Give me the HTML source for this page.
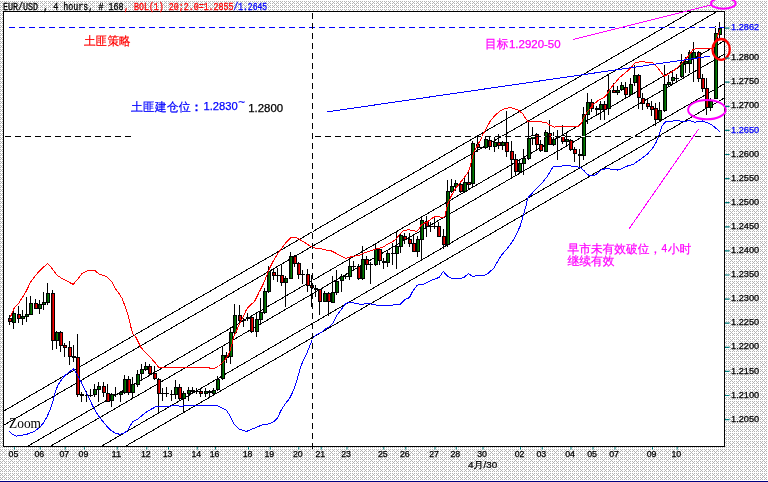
<!DOCTYPE html>
<html><head><meta charset="utf-8"><title>EURUSD H4</title>
<style>html,body{margin:0;padding:0;background:#fff;}svg{display:block;}</style>
</head><body>
<svg width="768" height="482" viewBox="0 0 768 482" shape-rendering="auto">
<defs>
<pattern id="dith" x="0" y="0" width="8" height="8" patternUnits="userSpaceOnUse"><rect width="8" height="8" fill="#fff"/><g fill="#b4b4b4"><rect x="0" y="1" width="1" height="1"/><rect x="2" y="1" width="1" height="1"/><rect x="4" y="1" width="1" height="1"/><rect x="6" y="1" width="1" height="1"/><rect x="1" y="2" width="1" height="1"/><rect x="5" y="2" width="1" height="1"/><rect x="0" y="3" width="1" height="1"/><rect x="2" y="3" width="1" height="1"/><rect x="4" y="3" width="1" height="1"/><rect x="6" y="3" width="1" height="1"/><rect x="3" y="4" width="1" height="1"/><rect x="0" y="5" width="1" height="1"/><rect x="2" y="5" width="1" height="1"/><rect x="4" y="5" width="1" height="1"/><rect x="6" y="5" width="1" height="1"/><rect x="1" y="6" width="1" height="1"/><rect x="5" y="6" width="1" height="1"/><rect x="0" y="7" width="1" height="1"/><rect x="2" y="7" width="1" height="1"/><rect x="4" y="7" width="1" height="1"/><rect x="6" y="7" width="1" height="1"/></g></pattern>
<clipPath id="cp"><rect x="4" y="12" width="720" height="434"/></clipPath>
</defs>
<rect x="0" y="0" width="768" height="482" fill="url(#dith)"/>
<rect x="0" y="481" width="768" height="1" fill="#000080"/>
<rect x="3.5" y="11.5" width="721" height="435" fill="#fff" stroke="#000" stroke-width="1"/>
<g clip-path="url(#cp)" shape-rendering="crispEdges">
<line x1="4" y1="410.89" x2="724" y2="-7.29" stroke="#000" stroke-width="1"/>
<line x1="4" y1="425.09" x2="724" y2="7.49" stroke="#000" stroke-width="1"/>
<line x1="4" y1="460.05" x2="724" y2="40.94" stroke="#000" stroke-width="1"/>
<line x1="4" y1="473.25" x2="724" y2="54.42" stroke="#000" stroke-width="1"/>
<line x1="4" y1="502.92" x2="724" y2="84.03" stroke="#000" stroke-width="1"/>
<line x1="4" y1="516.92" x2="724" y2="98.17" stroke="#000" stroke-width="1"/>
<path d="M9.5 315V325M13.5 308V329M18.5 306V323M22.5 310V325M26.5 297V322M30.5 296V315M35.5 299V309M39.5 300V314M43.5 292V310M47.5 283V305M52.5 290V350M56.5 331V349M60.5 331V352M64.5 343V357M69.5 341V365M73.5 345V362M77.5 334V397M81.5 392V402M86.5 391V402M90.5 389V397M94.5 384V397M98.5 382V402M103.5 382V397M107.5 384V402M111.5 393V407M115.5 387V397M120.5 391V402M124.5 375V394M128.5 376V395M132.5 377V399M137.5 370V387M141.5 364V379M145.5 362V371M149.5 364V375M154.5 366V380M158.5 378V414M162.5 388V401M166.5 387V397M171.5 390V401M175.5 380V399M179.5 384V400M183.5 391V412M188.5 387V401M192.5 387V393M196.5 388V394M200.5 389V397M205.5 388V397M209.5 390V397M213.5 388V395M217.5 376V391M222.5 346V380M226.5 352V363M230.5 327V364M234.5 304V334M239.5 305V322M243.5 318V327M247.5 313V321M251.5 316V333M256.5 312V337M260.5 298V325M264.5 288V314M268.5 266V293M273.5 269V280M277.5 268V282M281.5 264V286M285.5 276V307M290.5 252V279M294.5 255V267M298.5 262V279M302.5 270V284M307.5 269V292M311.5 275V307M315.5 285V297M319.5 289V315M324.5 291V302M328.5 292V316M332.5 276V303M336.5 270V295M341.5 274V292M345.5 274V279M349.5 259V280M353.5 261V270M358.5 264V280M362.5 246V280M366.5 256V270M370.5 262V284M375.5 244V266M379.5 248V265M383.5 258V269M387.5 251V267M392.5 243V265M396.5 232V269M400.5 233V253M404.5 233V244M409.5 233V247M413.5 236V252M417.5 236V257M421.5 216V259M426.5 216V237M430.5 222V232M434.5 217V229M438.5 222V237M443.5 229V249M447.5 180V247M451.5 179V193M455.5 180V191M460.5 183V193M464.5 178V192M468.5 172V190M472.5 141V188M477.5 137V152M485.5 136V149M489.5 137V150M494.5 136V152M498.5 134V149M502.5 141V150M506.5 111V157M511.5 141V179M515.5 154V175M519.5 160V174M523.5 149V175M528.5 122V160M532.5 127V145M536.5 133V150M540.5 140V152M545.5 130V152M549.5 120V145M553.5 132V146M557.5 130V160M562.5 125V144M566.5 132V146M570.5 139V151M574.5 147V162M579.5 149V169M583.5 107V160M587.5 93V124M591.5 99V112M596.5 106V115M600.5 101V120M604.5 101V120M608.5 74V115M613.5 83V93M617.5 86V95M621.5 82V91M625.5 82V99M630.5 78V96M634.5 65V86M638.5 74V109M642.5 93V110M647.5 99V109M651.5 101V116M655.5 103V126M659.5 102V122M664.5 65V112M668.5 75V86M672.5 72V84M676.5 74V83M681.5 54V78M685.5 57V73M689.5 50V73M693.5 42V82M698.5 51V82M702.5 74V92M706.5 78V115M710.5 98V111M715.5 26V99M719.5 22V39" stroke="#000" stroke-width="1" fill="none"/>
<g fill="#000"><rect x="8" y="318" width="4" height="4"/><rect x="12" y="313" width="4" height="10"/><rect x="17" y="314" width="4" height="5"/><rect x="21" y="316" width="4" height="3"/><rect x="25" y="314" width="4" height="3"/><rect x="29" y="303" width="4" height="12"/><rect x="34" y="303" width="4" height="6"/><rect x="38" y="304" width="4" height="5"/><rect x="42" y="302" width="4" height="3"/><rect x="46" y="293" width="4" height="10"/><rect x="51" y="293" width="4" height="48"/><rect x="55" y="332" width="4" height="9"/><rect x="59" y="332" width="4" height="14"/><rect x="63" y="345" width="4" height="3"/><rect x="68" y="347" width="4" height="10"/><rect x="72" y="356" width="4" height="2"/><rect x="76" y="357" width="4" height="38"/><rect x="80" y="394" width="4" height="2"/><rect x="85" y="395" width="4" height="1"/><rect x="89" y="395" width="4" height="1"/><rect x="93" y="389" width="4" height="6"/><rect x="97" y="386" width="4" height="4"/><rect x="102" y="386" width="4" height="7"/><rect x="106" y="393" width="4" height="9"/><rect x="110" y="394" width="4" height="7"/><rect x="114" y="394" width="4" height="1"/><rect x="119" y="392" width="4" height="3"/><rect x="123" y="379" width="4" height="14"/><rect x="127" y="379" width="4" height="14"/><rect x="131" y="384" width="4" height="9"/><rect x="136" y="374" width="4" height="11"/><rect x="140" y="369" width="4" height="5"/><rect x="144" y="366" width="4" height="4"/><rect x="148" y="366" width="4" height="8"/><rect x="153" y="373" width="4" height="6"/><rect x="157" y="379" width="4" height="15"/><rect x="161" y="393" width="4" height="1"/><rect x="165" y="393" width="4" height="1"/><rect x="170" y="394" width="4" height="1"/><rect x="174" y="387" width="4" height="8"/><rect x="178" y="387" width="4" height="12"/><rect x="182" y="393" width="4" height="6"/><rect x="187" y="390" width="4" height="4"/><rect x="191" y="390" width="4" height="2"/><rect x="195" y="391" width="4" height="1"/><rect x="199" y="391" width="4" height="3"/><rect x="204" y="391" width="4" height="3"/><rect x="208" y="391" width="4" height="2"/><rect x="212" y="390" width="4" height="4"/><rect x="216" y="379" width="4" height="11"/><rect x="221" y="355" width="4" height="24"/><rect x="225" y="355" width="4" height="3"/><rect x="229" y="332" width="4" height="25"/><rect x="233" y="315" width="4" height="18"/><rect x="238" y="315" width="4" height="6"/><rect x="242" y="320" width="4" height="1"/><rect x="246" y="317" width="4" height="2"/><rect x="250" y="317" width="4" height="15"/><rect x="255" y="319" width="4" height="13"/><rect x="259" y="312" width="4" height="8"/><rect x="263" y="291" width="4" height="22"/><rect x="267" y="271" width="4" height="21"/><rect x="272" y="272" width="4" height="4"/><rect x="276" y="275" width="4" height="1"/><rect x="280" y="275" width="4" height="8"/><rect x="284" y="278" width="4" height="5"/><rect x="289" y="256" width="4" height="23"/><rect x="293" y="256" width="4" height="8"/><rect x="297" y="263" width="4" height="12"/><rect x="301" y="274" width="4" height="1"/><rect x="306" y="274" width="4" height="12"/><rect x="310" y="285" width="4" height="3"/><rect x="314" y="288" width="4" height="2"/><rect x="318" y="289" width="4" height="13"/><rect x="323" y="293" width="4" height="9"/><rect x="327" y="293" width="4" height="9"/><rect x="331" y="292" width="4" height="11"/><rect x="335" y="281" width="4" height="12"/><rect x="340" y="276" width="4" height="5"/><rect x="344" y="276" width="4" height="1"/><rect x="348" y="266" width="4" height="11"/><rect x="352" y="266" width="4" height="1"/><rect x="357" y="266" width="4" height="13"/><rect x="361" y="259" width="4" height="20"/><rect x="365" y="259" width="4" height="6"/><rect x="369" y="264" width="4" height="1"/><rect x="374" y="249" width="4" height="16"/><rect x="378" y="249" width="4" height="12"/><rect x="382" y="261" width="4" height="2"/><rect x="386" y="253" width="4" height="10"/><rect x="391" y="253" width="4" height="1"/><rect x="395" y="246" width="4" height="8"/><rect x="399" y="235" width="4" height="12"/><rect x="403" y="236" width="4" height="4"/><rect x="408" y="239" width="4" height="5"/><rect x="412" y="243" width="4" height="9"/><rect x="416" y="239" width="4" height="13"/><rect x="420" y="220" width="4" height="20"/><rect x="425" y="221" width="4" height="6"/><rect x="429" y="226" width="4" height="1"/><rect x="433" y="226" width="4" height="1"/><rect x="437" y="226" width="4" height="11"/><rect x="442" y="236" width="4" height="9"/><rect x="446" y="191" width="4" height="54"/><rect x="450" y="186" width="4" height="6"/><rect x="454" y="183" width="4" height="4"/><rect x="459" y="184" width="4" height="8"/><rect x="463" y="182" width="4" height="10"/><rect x="467" y="182" width="4" height="3"/><rect x="471" y="143" width="4" height="41"/><rect x="476" y="144" width="4" height="4"/><rect x="480" y="147" width="4" height="1"/><rect x="484" y="139" width="4" height="9"/><rect x="488" y="140" width="4" height="7"/><rect x="493" y="142" width="4" height="5"/><rect x="497" y="142" width="4" height="4"/><rect x="501" y="142" width="4" height="4"/><rect x="505" y="142" width="4" height="10"/><rect x="510" y="151" width="4" height="9"/><rect x="514" y="159" width="4" height="13"/><rect x="518" y="163" width="4" height="9"/><rect x="522" y="158" width="4" height="6"/><rect x="527" y="138" width="4" height="21"/><rect x="531" y="135" width="4" height="4"/><rect x="535" y="134" width="4" height="11"/><rect x="539" y="144" width="4" height="7"/><rect x="544" y="132" width="4" height="20"/><rect x="548" y="133" width="4" height="12"/><rect x="552" y="139" width="4" height="6"/><rect x="556" y="137" width="4" height="1"/><rect x="561" y="135" width="4" height="7"/><rect x="565" y="139" width="4" height="3"/><rect x="569" y="140" width="4" height="10"/><rect x="573" y="149" width="4" height="5"/><rect x="578" y="154" width="4" height="2"/><rect x="582" y="114" width="4" height="42"/><rect x="586" y="102" width="4" height="13"/><rect x="590" y="102" width="4" height="7"/><rect x="595" y="108" width="4" height="2"/><rect x="599" y="104" width="4" height="6"/><rect x="603" y="104" width="4" height="6"/><rect x="607" y="90" width="4" height="19"/><rect x="612" y="90" width="4" height="3"/><rect x="616" y="90" width="4" height="3"/><rect x="620" y="85" width="4" height="5"/><rect x="624" y="87" width="4" height="8"/><rect x="629" y="84" width="4" height="11"/><rect x="633" y="75" width="4" height="8"/><rect x="637" y="75" width="4" height="23"/><rect x="641" y="98" width="4" height="6"/><rect x="646" y="103" width="4" height="4"/><rect x="650" y="106" width="4" height="4"/><rect x="654" y="108" width="4" height="12"/><rect x="658" y="110" width="4" height="10"/><rect x="663" y="84" width="4" height="27"/><rect x="667" y="82" width="4" height="3"/><rect x="671" y="77" width="4" height="4"/><rect x="675" y="78" width="4" height="1"/><rect x="680" y="62" width="4" height="15"/><rect x="684" y="61" width="4" height="3"/><rect x="688" y="52" width="4" height="12"/><rect x="692" y="52" width="4" height="7"/><rect x="697" y="52" width="4" height="27"/><rect x="701" y="78" width="4" height="11"/><rect x="705" y="88" width="4" height="20"/><rect x="709" y="101" width="4" height="7"/><rect x="714" y="33" width="4" height="66"/><rect x="718" y="28" width="4" height="7"/></g>
<g fill="#008000"><rect x="13" y="314" width="2" height="8"/><rect x="22" y="317" width="2" height="1"/><rect x="26" y="315" width="2" height="1"/><rect x="30" y="304" width="2" height="10"/><rect x="39" y="305" width="2" height="3"/><rect x="43" y="303" width="2" height="1"/><rect x="47" y="294" width="2" height="8"/><rect x="56" y="333" width="2" height="7"/><rect x="94" y="390" width="2" height="4"/><rect x="98" y="387" width="2" height="2"/><rect x="111" y="395" width="2" height="5"/><rect x="120" y="393" width="2" height="1"/><rect x="124" y="380" width="2" height="12"/><rect x="132" y="385" width="2" height="7"/><rect x="137" y="375" width="2" height="9"/><rect x="141" y="370" width="2" height="3"/><rect x="145" y="367" width="2" height="2"/><rect x="175" y="388" width="2" height="6"/><rect x="183" y="394" width="2" height="4"/><rect x="188" y="391" width="2" height="2"/><rect x="205" y="392" width="2" height="1"/><rect x="213" y="391" width="2" height="2"/><rect x="217" y="380" width="2" height="9"/><rect x="222" y="356" width="2" height="22"/><rect x="226" y="356" width="2" height="1"/><rect x="230" y="333" width="2" height="23"/><rect x="234" y="316" width="2" height="16"/><rect x="256" y="320" width="2" height="11"/><rect x="260" y="313" width="2" height="6"/><rect x="264" y="292" width="2" height="20"/><rect x="268" y="272" width="2" height="19"/><rect x="285" y="279" width="2" height="3"/><rect x="290" y="257" width="2" height="21"/><rect x="324" y="294" width="2" height="7"/><rect x="332" y="293" width="2" height="9"/><rect x="336" y="282" width="2" height="10"/><rect x="341" y="277" width="2" height="3"/><rect x="349" y="267" width="2" height="9"/><rect x="362" y="260" width="2" height="18"/><rect x="375" y="250" width="2" height="14"/><rect x="387" y="254" width="2" height="8"/><rect x="396" y="247" width="2" height="6"/><rect x="400" y="236" width="2" height="10"/><rect x="417" y="240" width="2" height="11"/><rect x="421" y="221" width="2" height="18"/><rect x="447" y="192" width="2" height="52"/><rect x="451" y="187" width="2" height="4"/><rect x="455" y="184" width="2" height="2"/><rect x="464" y="183" width="2" height="8"/><rect x="472" y="144" width="2" height="39"/><rect x="485" y="140" width="2" height="7"/><rect x="494" y="143" width="2" height="3"/><rect x="502" y="143" width="2" height="2"/><rect x="519" y="164" width="2" height="7"/><rect x="523" y="159" width="2" height="4"/><rect x="528" y="139" width="2" height="19"/><rect x="532" y="136" width="2" height="2"/><rect x="545" y="133" width="2" height="18"/><rect x="553" y="140" width="2" height="4"/><rect x="566" y="140" width="2" height="1"/><rect x="583" y="115" width="2" height="40"/><rect x="587" y="103" width="2" height="11"/><rect x="600" y="105" width="2" height="4"/><rect x="608" y="91" width="2" height="17"/><rect x="617" y="91" width="2" height="1"/><rect x="621" y="86" width="2" height="3"/><rect x="630" y="85" width="2" height="9"/><rect x="634" y="76" width="2" height="6"/><rect x="659" y="111" width="2" height="8"/><rect x="664" y="85" width="2" height="25"/><rect x="668" y="83" width="2" height="1"/><rect x="672" y="78" width="2" height="2"/><rect x="681" y="63" width="2" height="13"/><rect x="685" y="62" width="2" height="1"/><rect x="689" y="53" width="2" height="10"/><rect x="693" y="53" width="2" height="5"/><rect x="710" y="102" width="2" height="5"/><rect x="715" y="34" width="2" height="64"/><rect x="719" y="29" width="2" height="5"/></g>
<g fill="#ff0000"><rect x="9" y="319" width="2" height="2"/><rect x="18" y="315" width="2" height="3"/><rect x="35" y="304" width="2" height="4"/><rect x="52" y="294" width="2" height="46"/><rect x="60" y="333" width="2" height="12"/><rect x="64" y="346" width="2" height="1"/><rect x="69" y="348" width="2" height="8"/><rect x="77" y="358" width="2" height="36"/><rect x="103" y="387" width="2" height="5"/><rect x="107" y="394" width="2" height="7"/><rect x="128" y="380" width="2" height="12"/><rect x="149" y="367" width="2" height="6"/><rect x="154" y="374" width="2" height="4"/><rect x="158" y="380" width="2" height="13"/><rect x="179" y="388" width="2" height="10"/><rect x="200" y="392" width="2" height="1"/><rect x="239" y="316" width="2" height="4"/><rect x="251" y="318" width="2" height="13"/><rect x="273" y="273" width="2" height="2"/><rect x="281" y="276" width="2" height="6"/><rect x="294" y="257" width="2" height="6"/><rect x="298" y="264" width="2" height="10"/><rect x="307" y="275" width="2" height="10"/><rect x="311" y="286" width="2" height="1"/><rect x="319" y="290" width="2" height="11"/><rect x="328" y="294" width="2" height="7"/><rect x="358" y="267" width="2" height="11"/><rect x="366" y="260" width="2" height="4"/><rect x="379" y="250" width="2" height="10"/><rect x="404" y="237" width="2" height="2"/><rect x="409" y="240" width="2" height="3"/><rect x="413" y="244" width="2" height="7"/><rect x="426" y="222" width="2" height="4"/><rect x="438" y="227" width="2" height="9"/><rect x="443" y="237" width="2" height="7"/><rect x="460" y="185" width="2" height="6"/><rect x="468" y="183" width="2" height="1"/><rect x="477" y="145" width="2" height="2"/><rect x="489" y="141" width="2" height="5"/><rect x="498" y="143" width="2" height="2"/><rect x="506" y="143" width="2" height="8"/><rect x="511" y="152" width="2" height="7"/><rect x="515" y="160" width="2" height="11"/><rect x="536" y="135" width="2" height="9"/><rect x="540" y="145" width="2" height="5"/><rect x="549" y="134" width="2" height="10"/><rect x="562" y="136" width="2" height="5"/><rect x="570" y="141" width="2" height="8"/><rect x="574" y="150" width="2" height="3"/><rect x="591" y="103" width="2" height="5"/><rect x="604" y="105" width="2" height="4"/><rect x="613" y="91" width="2" height="1"/><rect x="625" y="88" width="2" height="6"/><rect x="638" y="76" width="2" height="21"/><rect x="642" y="99" width="2" height="4"/><rect x="647" y="104" width="2" height="2"/><rect x="651" y="107" width="2" height="2"/><rect x="655" y="109" width="2" height="10"/><rect x="698" y="53" width="2" height="25"/><rect x="702" y="79" width="2" height="9"/><rect x="706" y="89" width="2" height="18"/></g>
<path d="M9.5 319V321M13.5 314V322M18.5 315V318M22.5 317V318M26.5 315V316M30.5 304V314M35.5 304V308M39.5 305V308M43.5 303V304M47.5 294V302M52.5 294V340M56.5 333V340M60.5 333V345M64.5 346V347M69.5 348V356M77.5 358V394M94.5 390V394M98.5 387V389M103.5 387V392M107.5 394V401M111.5 395V400M120.5 393V394M124.5 380V392M128.5 380V392M132.5 385V392M137.5 375V384M141.5 370V373M145.5 367V369M149.5 367V373M154.5 374V378M158.5 380V393M175.5 388V394M179.5 388V398M183.5 394V398M188.5 391V393M200.5 392V393M205.5 392V393M213.5 391V393M217.5 380V389M222.5 356V378M226.5 356V357M230.5 333V356M234.5 316V332M239.5 316V320M251.5 318V331M256.5 320V331M260.5 313V319M264.5 292V312M268.5 272V291M273.5 273V275M281.5 276V282M285.5 279V282M290.5 257V278M294.5 257V263M298.5 264V274M307.5 275V285M311.5 286V287M319.5 290V301M324.5 294V301M328.5 294V301M332.5 293V302M336.5 282V292M341.5 277V280M349.5 267V276M358.5 267V278M362.5 260V278M366.5 260V264M375.5 250V264M379.5 250V260M387.5 254V262M396.5 247V253M400.5 236V246M404.5 237V239M409.5 240V243M413.5 244V251M417.5 240V251M421.5 221V239M426.5 222V226M438.5 227V236M443.5 237V244M447.5 192V244M451.5 187V191M455.5 184V186M460.5 185V191M464.5 183V191M468.5 183V184M472.5 144V183M477.5 145V147M485.5 140V147M489.5 141V146M494.5 143V146M498.5 143V145M502.5 143V145M506.5 143V151M511.5 152V159M515.5 160V171M519.5 164V171M523.5 159V163M528.5 139V158M532.5 136V138M536.5 135V144M540.5 145V150M545.5 133V151M549.5 134V144M553.5 140V144M562.5 136V141M566.5 140V141M570.5 141V149M574.5 150V153M583.5 115V155M587.5 103V114M591.5 103V108M600.5 105V109M604.5 105V109M608.5 91V108M613.5 91V92M617.5 91V92M621.5 86V89M625.5 88V94M630.5 85V94M634.5 76V82M638.5 76V97M642.5 99V103M647.5 104V106M651.5 107V109M655.5 109V119M659.5 111V119M664.5 85V110M668.5 83V84M672.5 78V80M681.5 63V76M685.5 62V63M689.5 53V63M693.5 53V58M698.5 53V78M702.5 79V88M706.5 89V107M710.5 102V107M715.5 34V98M719.5 29V34" stroke="#000" stroke-opacity="0.45" stroke-width="1" fill="none"/>
<polyline points="9.5,317.5 11.25,315 13.75,308.75 18.75,303.1 23.1,296.25 26.25,291.25 30,283.1 33.1,278.75 37.5,273.1 42.5,268.1 47.5,263.5 51.25,267.5 53.75,270.6 56.9,275 61.25,278.1 67.5,281.25 73.1,284.4 77.5,279.4 81.9,273.75 87.5,270.6 90,270.25 94.4,270.25 98.75,273.75 102.5,275.25 106.25,276.25 110,279.75 112.5,282.5 115,288.1 118.75,293.1 121.9,298.1 124.4,304.4 126.9,311.9 128.75,317.5 130.6,325 131,327.5 132.9,333.75 136,337.5 138.5,342.5 141,347.5 146,353.1 151,358.1 155.4,363.1 158.5,367.25 163.5,367.25 184.75,367.25 207.25,367.25 209.75,368.1 214.75,368.1 218.5,366.5 220.4,364.6 224.7,360.3 228.3,355.2 230.5,349.4 232,343.6 233.4,337.8 235.6,332.7 237.8,327.6 240.7,321.8 243.6,316 246.5,309.4 250.9,304.4 254.4,301.7 258.7,293 263.1,284.3 266.7,275.6 269.6,268.3 273.2,261 277.6,253.8 281.9,248 286.3,242.2 290.7,237.8 295,237.1 299.4,239.3 305.2,242.9 311,246.5 315.4,248 321.2,248.7 327,250.2 331.3,250.9 335.7,253.1 340.5,255.8 345.7,258.4 349.4,257.3 353.9,256.1 358.4,255.8 362.9,253.5 368.1,251.7 373.3,249.8 377.8,248.3 380.8,247.9 384.5,246.1 388.3,243.8 392.4,242 396.6,238.4 399.2,234.75 402.8,231.1 408,229.6 412.2,230.6 416.3,231.3 418.9,229.6 420.5,225.9 423.6,223.3 426.7,222.3 429.8,220.2 432.9,217.6 436,216.4 439.1,216.6 442.2,217.8 444.8,216.6 445.9,211.4 447.4,205.2 449,201 451.6,195.2 456,187.9 461.8,180.7 466.9,174.1 469.8,168.3 472,158.9 474.1,151.6 477,145.8 480.7,140 481.9,136 485.6,129.75 490,121.6 495,115.4 500,111 505,108.5 510.6,107.5 515,109.1 518.75,110.4 522.5,113.5 525.6,118.5 528.1,121.6 532.5,121.6 538.75,121.6 546.25,122.5 550,125.35 554.4,127.1 560.2,126.1 568.9,126.5 576.1,126.8 579.8,125.6 582,121.7 584.1,116.6 587,112.3 590.7,107.9 593.6,104.3 597.9,100.7 603.7,97.8 606.6,94.9 609.5,89.8 612.4,86.1 616.1,81.8 619.7,77.4 624.1,73.8 628.4,70.2 632,66.5 635,62.9 638.6,62.2 640.25,61.4 646.5,62.25 652.75,62.9 656,65.7 658.2,68.3 660.5,71.6 662.7,74.6 664.6,76.1 667.2,74.6 670.9,72.4 674.7,69.8 677.7,67.2 680.6,64.2 683.6,61.2 685.9,58.6 688.1,56.3 690.4,53.3 692.6,50 694.1,49.2 697.1,48.5 700,48.1 704,48.25 711.5,48.25 714,46.6 716.5,38 720,30" fill="none" stroke="#ff0000" stroke-width="1" stroke-linejoin="round"/>
<polyline points="8.9,430.8 12.1,434 16.2,436.1 21,435.6 27.5,434 34,431.6 39.6,427.5 43.7,422.7 46.9,417 50.2,409.7 52.6,402.5 54.2,396 55.8,390.3 58.3,384.7 61.5,379.8 64.7,375.75 69.6,371.7 73.6,368.8 76.9,374.1 80.9,381.4 84.1,387.9 88.2,396 90,400 92.5,405.5 96.25,412.5 100,418.1 103.75,422.5 107.5,426.9 111.25,430.6 115,433.1 120,434.4 123.75,433.1 127.5,430.6 130,426.25 132.5,421.9 137.5,419.4 142.5,415 147.5,411.25 152.5,408.5 156.25,406.5 170,406.25 173.75,405.25 177.5,405.6 180,406.25 191.5,405.4 217.1,405.4 220.9,407.5 225.9,409.75 229,414.1 231.5,419.1 234,424.1 239,429.1 246.5,431.4 254,428.25 262.75,424.75 269.6,423.75 274,421.6 277.75,417.9 280.7,410.9 285.1,404 289.4,398.7 292.9,391.7 295.5,384.8 298.1,376.1 300.7,366.5 303.4,360.4 306.8,353.4 310.3,344.7 312.9,337.7 316.25,335 321.25,332.5 325,329.4 330,326.25 333.1,323.1 335,318.75 337.5,314.4 341.25,309.4 345,304.4 348.1,302.5 351.25,302.5 356.25,303.5 361.9,304.4 366.25,303.5 371.25,304 377.5,305.25 386,305.6 392,305.1 400.1,304.5 405.1,299.5 409.5,297.6 412.6,291.4 417,285.5 419.5,284.5 423.25,284.25 428.25,281.75 432,279.9 435.75,278.9 439.5,277 443.25,271.4 447,275.75 451.4,278.25 461.4,278.25 464.5,277 468.5,273.5 472.6,276.4 478.9,275.5 485.1,275.1 488,273.3 493.5,268.6 496.7,263.1 501.4,255.2 506.9,248.9 512.4,241.8 516.4,233.9 520.3,226 522.7,217.4 525.1,208.7 526.3,204.8 527.4,198.5 531.4,194 537.1,187.7 542.8,182 547.4,176.3 550.8,170.5 553.1,166.6 558.8,166.6 565.7,165.2 569.1,165.75 575.9,166.6 580.5,167.7 583.9,170.5 587.4,174.5 590.8,176 594.2,175.7 596,174.6 601.1,170.1 606.3,168.4 611.4,169.2 617.2,170.1 621.7,168.8 626.8,166.2 633.3,164.3 637.1,161.7 642.3,157.8 647.4,154 652.6,148.2 655.8,143.1 658.3,137.3 660.3,130.9 662.2,125.7 665.4,121.9 668,121.2 672,121.2 676.25,120.4 681.25,121.25 685,121.6 689.4,120.4 692.5,121.6 695,122.25 698.1,121.25 702.5,121 707.5,122.9 712.5,125.4 716.25,128.5 720,132.25" fill="none" stroke="#0000ff" stroke-width="1" stroke-linejoin="round"/>
<line x1="9" y1="27.5" x2="724" y2="27.5" stroke="#fff" stroke-width="1"/>
<line x1="9" y1="27.5" x2="724" y2="27.5" stroke="#0000ff" stroke-width="1" stroke-dasharray="6 4"/>
<line x1="5" y1="136.5" x2="131" y2="136.5" stroke="#fff" stroke-width="1"/>
<line x1="5" y1="136.5" x2="131" y2="136.5" stroke="#000" stroke-width="1" stroke-dasharray="6 4"/>
<line x1="315" y1="136.5" x2="722" y2="136.5" stroke="#fff" stroke-width="1"/>
<line x1="315" y1="136.5" x2="722" y2="136.5" stroke="#000" stroke-width="1" stroke-dasharray="6 4"/>
<line x1="312.5" y1="13" x2="312.5" y2="446" stroke="#fff" stroke-width="1"/>
<line x1="312.5" y1="13" x2="312.5" y2="446" stroke="#000" stroke-width="1" stroke-dasharray="6 4"/>
<line x1="327.2" y1="111.9" x2="709.6" y2="56.25" stroke="#0000ff" stroke-width="1"/>
</g>
<g shape-rendering="crispEdges"><line x1="573" y1="39.6" x2="710.5" y2="5.2" stroke="#ff00ff" stroke-width="1"/>
<line x1="629.3" y1="228.5" x2="698.6" y2="129" stroke="#ff00ff" stroke-width="1"/></g>
<ellipse cx="723.35" cy="3.4" rx="12.35" ry="5.3" fill="none" stroke="#ff00ff" stroke-width="2"/>
<ellipse cx="706.9" cy="109.7" rx="18.8" ry="9.6" fill="none" stroke="#ff00ff" stroke-width="2"/>
<ellipse cx="721.15" cy="49.4" rx="8.65" ry="10.4" fill="none" stroke="#ff0000" stroke-width="2.3"/>
<line x1="312.5" y1="446" x2="312.5" y2="449" stroke="#000" stroke-width="1"/>
<text x="3" y="10.2" font-size="10" fill="#000" font-family="'Liberation Mono', 'DejaVu Sans Mono', monospace" stroke="#000" stroke-width="0.3" textLength="120.5" lengthAdjust="spacingAndGlyphs">EUR/USD , 4 hours, # 168</text>
<text x="124" y="10.2" font-size="10" fill="#ff0000" font-family="'Liberation Mono', 'DejaVu Sans Mono', monospace" stroke="#ff0000" stroke-width="0.3" textLength="109.5" lengthAdjust="spacingAndGlyphs">, BOL(1) 20;2.0=1.2855</text>
<text x="233.5" y="10.2" font-size="10" fill="#0000ff" font-family="'Liberation Mono', 'DejaVu Sans Mono', monospace" stroke="#0000ff" stroke-width="0.3" textLength="33.5" lengthAdjust="spacingAndGlyphs">/1.2645</text>
<text x="731" y="30.3" font-size="8.8" fill="#0000ff" font-family="'Liberation Sans', sans-serif" stroke="#0000ff" stroke-width="0.25" textLength="28.2" lengthAdjust="spacingAndGlyphs">1.2862</text>
<text x="731" y="60.2" font-size="8.8" fill="#000" font-family="'Liberation Sans', sans-serif" stroke="#000" stroke-width="0.25" textLength="28.2" lengthAdjust="spacingAndGlyphs">1.2800</text>
<text x="731" y="84.3" font-size="8.8" fill="#000" font-family="'Liberation Sans', sans-serif" stroke="#000" stroke-width="0.25" textLength="28.2" lengthAdjust="spacingAndGlyphs">1.2750</text>
<text x="731" y="108.4" font-size="8.8" fill="#000" font-family="'Liberation Sans', sans-serif" stroke="#000" stroke-width="0.25" textLength="28.2" lengthAdjust="spacingAndGlyphs">1.2700</text>
<text x="731" y="132.5" font-size="8.8" fill="#0000ff" font-family="'Liberation Sans', sans-serif" stroke="#0000ff" stroke-width="0.25" textLength="28.2" lengthAdjust="spacingAndGlyphs">1.2650</text>
<text x="731" y="156.6" font-size="8.8" fill="#000" font-family="'Liberation Sans', sans-serif" stroke="#000" stroke-width="0.25" textLength="28.2" lengthAdjust="spacingAndGlyphs">1.2600</text>
<text x="731" y="180.7" font-size="8.8" fill="#000" font-family="'Liberation Sans', sans-serif" stroke="#000" stroke-width="0.25" textLength="28.2" lengthAdjust="spacingAndGlyphs">1.2550</text>
<text x="731" y="204.8" font-size="8.8" fill="#000" font-family="'Liberation Sans', sans-serif" stroke="#000" stroke-width="0.25" textLength="28.2" lengthAdjust="spacingAndGlyphs">1.2500</text>
<text x="731" y="228.9" font-size="8.8" fill="#000" font-family="'Liberation Sans', sans-serif" stroke="#000" stroke-width="0.25" textLength="28.2" lengthAdjust="spacingAndGlyphs">1.2450</text>
<text x="731" y="253" font-size="8.8" fill="#000" font-family="'Liberation Sans', sans-serif" stroke="#000" stroke-width="0.25" textLength="28.2" lengthAdjust="spacingAndGlyphs">1.2400</text>
<text x="731" y="277.1" font-size="8.8" fill="#000" font-family="'Liberation Sans', sans-serif" stroke="#000" stroke-width="0.25" textLength="28.2" lengthAdjust="spacingAndGlyphs">1.2350</text>
<text x="731" y="301.2" font-size="8.8" fill="#000" font-family="'Liberation Sans', sans-serif" stroke="#000" stroke-width="0.25" textLength="28.2" lengthAdjust="spacingAndGlyphs">1.2300</text>
<text x="731" y="325.3" font-size="8.8" fill="#000" font-family="'Liberation Sans', sans-serif" stroke="#000" stroke-width="0.25" textLength="28.2" lengthAdjust="spacingAndGlyphs">1.2250</text>
<text x="731" y="349.4" font-size="8.8" fill="#000" font-family="'Liberation Sans', sans-serif" stroke="#000" stroke-width="0.25" textLength="28.2" lengthAdjust="spacingAndGlyphs">1.2200</text>
<text x="731" y="373.5" font-size="8.8" fill="#000" font-family="'Liberation Sans', sans-serif" stroke="#000" stroke-width="0.25" textLength="28.2" lengthAdjust="spacingAndGlyphs">1.2150</text>
<text x="731" y="397.6" font-size="8.8" fill="#000" font-family="'Liberation Sans', sans-serif" stroke="#000" stroke-width="0.25" textLength="28.2" lengthAdjust="spacingAndGlyphs">1.2100</text>
<text x="731" y="421.7" font-size="8.8" fill="#000" font-family="'Liberation Sans', sans-serif" stroke="#000" stroke-width="0.25" textLength="28.2" lengthAdjust="spacingAndGlyphs">1.2050</text>
<path d="M725 28.2H729.5M725 58.1H729.5M725 82.2H729.5M725 106.3H729.5M725 130.4H729.5M725 154.5H729.5M725 178.6H729.5M725 202.7H729.5M725 226.8H729.5M725 250.9H729.5M725 275H729.5M725 299.1H729.5M725 323.2H729.5M725 347.3H729.5M725 371.4H729.5M725 395.5H729.5M725 419.6H729.5" stroke="#008080" stroke-width="1.2"/>
<text x="8.6" y="456.6" font-size="8.4" fill="#000" font-family="'Liberation Sans', sans-serif" stroke="#000" stroke-width="0.25" textLength="9.8" lengthAdjust="spacingAndGlyphs">05</text>
<text x="34.45" y="456.6" font-size="8.4" fill="#000" font-family="'Liberation Sans', sans-serif" stroke="#000" stroke-width="0.25" textLength="9.8" lengthAdjust="spacingAndGlyphs">06</text>
<text x="59.45" y="456.6" font-size="8.4" fill="#000" font-family="'Liberation Sans', sans-serif" stroke="#000" stroke-width="0.25" textLength="9.8" lengthAdjust="spacingAndGlyphs">07</text>
<text x="78.6" y="456.6" font-size="8.4" fill="#000" font-family="'Liberation Sans', sans-serif" stroke="#000" stroke-width="0.25" textLength="9.8" lengthAdjust="spacingAndGlyphs">09</text>
<text x="111.45" y="456.6" font-size="8.4" fill="#000" font-family="'Liberation Sans', sans-serif" stroke="#000" stroke-width="0.25" textLength="9.8" lengthAdjust="spacingAndGlyphs">11</text>
<text x="140.95" y="456.6" font-size="8.4" fill="#000" font-family="'Liberation Sans', sans-serif" stroke="#000" stroke-width="0.25" textLength="9.8" lengthAdjust="spacingAndGlyphs">12</text>
<text x="162.7" y="456.6" font-size="8.4" fill="#000" font-family="'Liberation Sans', sans-serif" stroke="#000" stroke-width="0.25" textLength="9.8" lengthAdjust="spacingAndGlyphs">13</text>
<text x="191.45" y="456.6" font-size="8.4" fill="#000" font-family="'Liberation Sans', sans-serif" stroke="#000" stroke-width="0.25" textLength="9.8" lengthAdjust="spacingAndGlyphs">14</text>
<text x="209.7" y="456.6" font-size="8.4" fill="#000" font-family="'Liberation Sans', sans-serif" stroke="#000" stroke-width="0.25" textLength="9.8" lengthAdjust="spacingAndGlyphs">16</text>
<text x="242.7" y="456.6" font-size="8.4" fill="#000" font-family="'Liberation Sans', sans-serif" stroke="#000" stroke-width="0.25" textLength="9.8" lengthAdjust="spacingAndGlyphs">18</text>
<text x="264.45" y="456.6" font-size="8.4" fill="#000" font-family="'Liberation Sans', sans-serif" stroke="#000" stroke-width="0.25" textLength="9.8" lengthAdjust="spacingAndGlyphs">19</text>
<text x="292.95" y="456.6" font-size="8.4" fill="#000" font-family="'Liberation Sans', sans-serif" stroke="#000" stroke-width="0.25" textLength="9.8" lengthAdjust="spacingAndGlyphs">20</text>
<text x="315.45" y="456.6" font-size="8.4" fill="#000" font-family="'Liberation Sans', sans-serif" stroke="#000" stroke-width="0.25" textLength="9.8" lengthAdjust="spacingAndGlyphs">21</text>
<text x="341.2" y="456.6" font-size="8.4" fill="#000" font-family="'Liberation Sans', sans-serif" stroke="#000" stroke-width="0.25" textLength="9.8" lengthAdjust="spacingAndGlyphs">23</text>
<text x="377.95" y="456.6" font-size="8.4" fill="#000" font-family="'Liberation Sans', sans-serif" stroke="#000" stroke-width="0.25" textLength="9.8" lengthAdjust="spacingAndGlyphs">25</text>
<text x="399.95" y="456.6" font-size="8.4" fill="#000" font-family="'Liberation Sans', sans-serif" stroke="#000" stroke-width="0.25" textLength="9.8" lengthAdjust="spacingAndGlyphs">26</text>
<text x="429.2" y="456.6" font-size="8.4" fill="#000" font-family="'Liberation Sans', sans-serif" stroke="#000" stroke-width="0.25" textLength="9.8" lengthAdjust="spacingAndGlyphs">27</text>
<text x="450.45" y="456.6" font-size="8.4" fill="#000" font-family="'Liberation Sans', sans-serif" stroke="#000" stroke-width="0.25" textLength="9.8" lengthAdjust="spacingAndGlyphs">28</text>
<text x="477.2" y="456.6" font-size="8.4" fill="#000" font-family="'Liberation Sans', sans-serif" stroke="#000" stroke-width="0.25" textLength="9.8" lengthAdjust="spacingAndGlyphs">30</text>
<text x="514.7" y="456.6" font-size="8.4" fill="#000" font-family="'Liberation Sans', sans-serif" stroke="#000" stroke-width="0.25" textLength="9.8" lengthAdjust="spacingAndGlyphs">02</text>
<text x="536.45" y="456.6" font-size="8.4" fill="#000" font-family="'Liberation Sans', sans-serif" stroke="#000" stroke-width="0.25" textLength="9.8" lengthAdjust="spacingAndGlyphs">03</text>
<text x="565.2" y="456.6" font-size="8.4" fill="#000" font-family="'Liberation Sans', sans-serif" stroke="#000" stroke-width="0.25" textLength="9.8" lengthAdjust="spacingAndGlyphs">04</text>
<text x="587.2" y="456.6" font-size="8.4" fill="#000" font-family="'Liberation Sans', sans-serif" stroke="#000" stroke-width="0.25" textLength="9.8" lengthAdjust="spacingAndGlyphs">05</text>
<text x="609.2" y="456.6" font-size="8.4" fill="#000" font-family="'Liberation Sans', sans-serif" stroke="#000" stroke-width="0.25" textLength="9.8" lengthAdjust="spacingAndGlyphs">07</text>
<text x="646.7" y="456.6" font-size="8.4" fill="#000" font-family="'Liberation Sans', sans-serif" stroke="#000" stroke-width="0.25" textLength="9.8" lengthAdjust="spacingAndGlyphs">09</text>
<text x="671.4" y="456.6" font-size="8.4" fill="#000" font-family="'Liberation Sans', sans-serif" stroke="#000" stroke-width="0.25" textLength="9.8" lengthAdjust="spacingAndGlyphs">10</text>
<path d="M14.4 447V449.5M40.25 447V449.5M65.25 447V449.5M84.4 447V449.5M117.25 447V449.5M146.75 447V449.5M168.5 447V449.5M197.25 447V449.5M215.5 447V449.5M248.5 447V449.5M270.25 447V449.5M298.75 447V449.5M321.25 447V449.5M347 447V449.5M383.75 447V449.5M405.75 447V449.5M435 447V449.5M456.25 447V449.5M483 447V449.5M520.5 447V449.5M542.25 447V449.5M571 447V449.5M593 447V449.5M615 447V449.5M652.5 447V449.5M677.2 447V449.5" stroke="#008080" stroke-width="1"/>
<text x="468" y="468.2" font-size="9" fill="#000" font-family="'Liberation Sans', 'WenQuanYi Zen Hei', 'Noto Sans CJK SC', sans-serif" stroke="#000" stroke-width="0.2" textLength="29.2" lengthAdjust="spacingAndGlyphs">4月/30</text>
<text x="84" y="45.2" font-size="12" fill="#ff0000" font-family="'Liberation Sans', 'WenQuanYi Zen Hei', 'Noto Sans CJK SC', sans-serif" stroke="#ff0000" stroke-width="0.2" textLength="46.8" lengthAdjust="spacingAndGlyphs">土匪策略</text>
<text x="131" y="110.6" font-size="12" fill="#0000ff" font-family="'Liberation Sans', 'WenQuanYi Zen Hei', 'Noto Sans CJK SC', sans-serif" stroke="#0000ff" stroke-width="0.2" textLength="59.6" lengthAdjust="spacingAndGlyphs">土匪建仓位</text>
<text x="190.6" y="110.6" font-size="12" fill="#0000ff" font-family="'Liberation Sans', 'WenQuanYi Zen Hei', 'Noto Sans CJK SC', sans-serif" stroke="#0000ff" stroke-width="0.6">：</text>
<text x="203.5" y="109.9" font-size="11" fill="#0000ff" font-family="'Liberation Sans', sans-serif" stroke="#0000ff" stroke-width="0.25" textLength="34.2" lengthAdjust="spacingAndGlyphs">1.2830</text>
<text x="238.3" y="106.2" font-size="11" fill="#0000ff" font-family="'Liberation Mono', 'DejaVu Sans Mono', monospace" stroke="#0000ff" stroke-width="0.25" textLength="6.8" lengthAdjust="spacingAndGlyphs">~</text>
<text x="248.2" y="111.7" font-size="10.5" fill="#000" font-family="'Liberation Sans', sans-serif" stroke="#000" stroke-width="0.25" textLength="34.9" lengthAdjust="spacingAndGlyphs">1.2800</text>
<text x="485" y="48" font-size="12" fill="#ff00ff" font-family="'Liberation Sans', 'WenQuanYi Zen Hei', 'Noto Sans CJK SC', sans-serif" stroke="#ff00ff" stroke-width="0.2" textLength="23.4" lengthAdjust="spacingAndGlyphs">目标</text>
<text x="509" y="47.8" font-size="11" fill="#ff00ff" font-family="'Liberation Sans', sans-serif" stroke="#ff00ff" stroke-width="0.25" textLength="51.6" lengthAdjust="spacingAndGlyphs">1.2920-50</text>
<text x="567.5" y="252.5" font-size="12" fill="#ff00ff" font-family="'Liberation Sans', 'WenQuanYi Zen Hei', 'Noto Sans CJK SC', sans-serif" stroke="#ff00ff" stroke-width="0.2" textLength="93.6" lengthAdjust="spacingAndGlyphs">早市未有效破位，</text>
<text x="661.5" y="252.2" font-size="11" fill="#ff00ff" font-family="'Liberation Sans', sans-serif" stroke="#ff00ff" stroke-width="0.25" textLength="5.6" lengthAdjust="spacingAndGlyphs">4</text>
<text x="667.7" y="252.5" font-size="12" fill="#ff00ff" font-family="'Liberation Sans', 'WenQuanYi Zen Hei', 'Noto Sans CJK SC', sans-serif" stroke="#ff00ff" stroke-width="0.2" textLength="23.5" lengthAdjust="spacingAndGlyphs">小时</text>
<text x="567.5" y="264.5" font-size="12" fill="#ff00ff" font-family="'Liberation Sans', 'WenQuanYi Zen Hei', 'Noto Sans CJK SC', sans-serif" stroke="#ff00ff" stroke-width="0.2" textLength="47" lengthAdjust="spacingAndGlyphs">继续有效</text>
<text x="9" y="427.8" font-size="14.5" fill="#000" font-family="'Liberation Serif', serif" textLength="32" lengthAdjust="spacingAndGlyphs">Zoom</text>
</svg>
</body></html>
